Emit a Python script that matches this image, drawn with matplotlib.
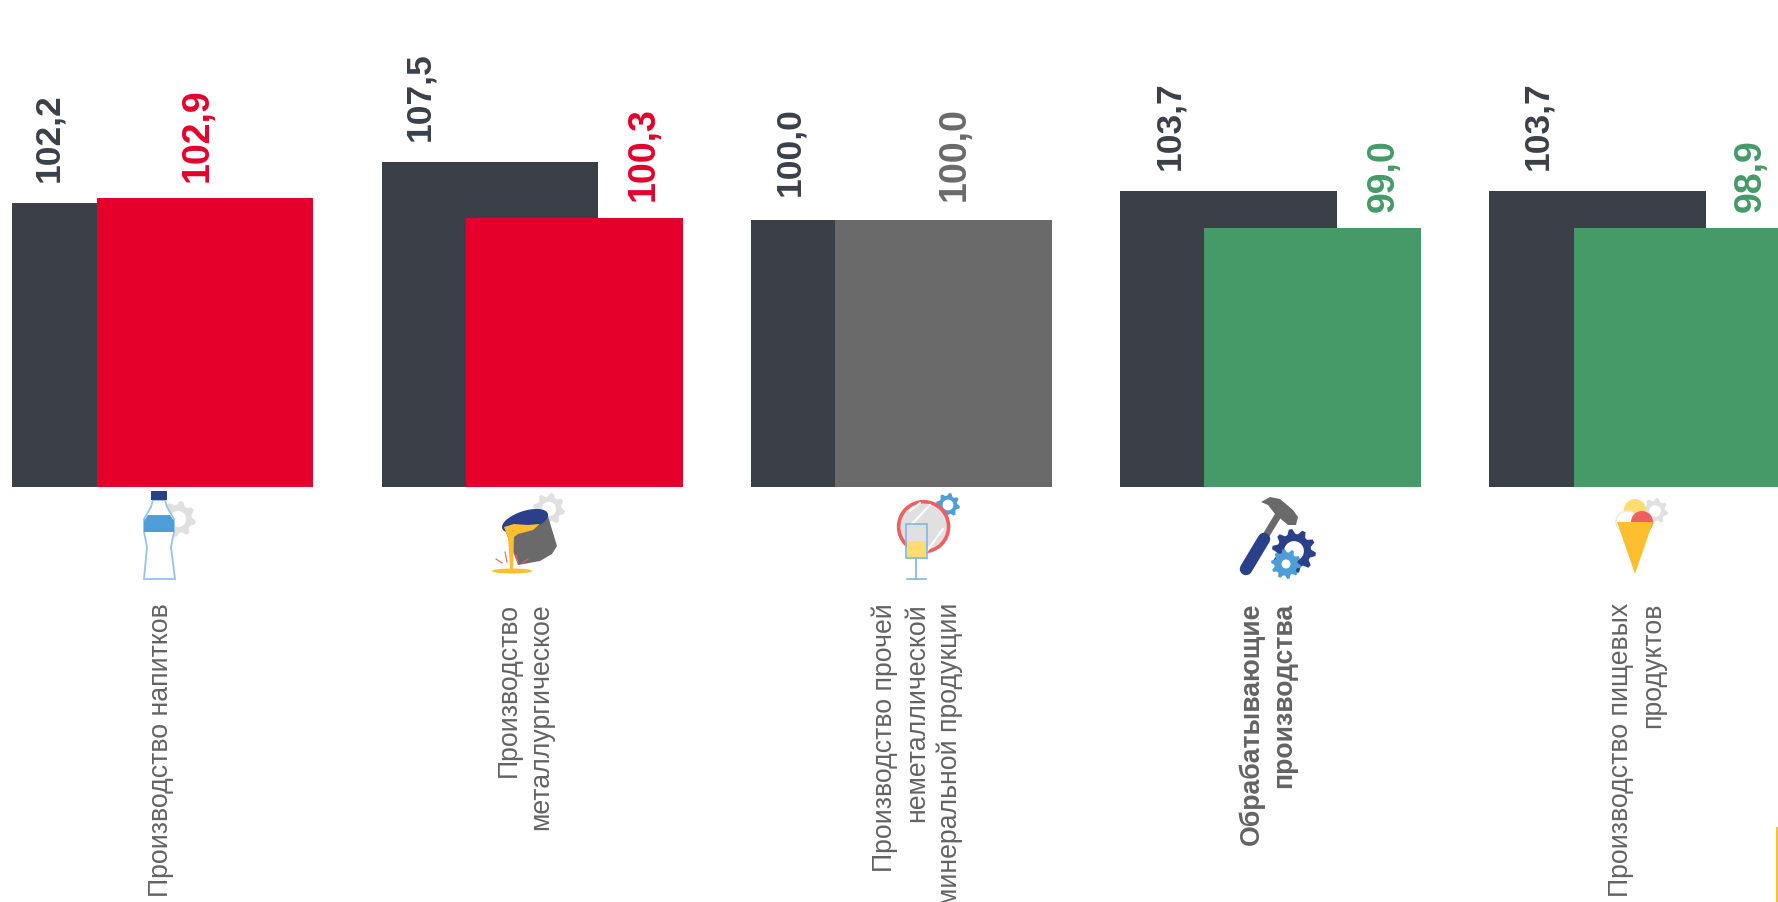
import numpy as np
import matplotlib
matplotlib.use('Agg')
import matplotlib.pyplot as plt
from matplotlib.patches import Circle, Ellipse, Polygon, Rectangle

plt.rcParams['font.family'] = ['Liberation Sans', 'DejaVu Sans']

categories = ['Производство напитков',
              'Производство\nметаллургическое',
              'Производство прочей\nнеметаллической\nминеральной продукции',
              'Обрабатывающие\nпроизводства',
              'Производство пищевых\nпродуктов']
prev_values = [102.2, 107.5, 100.0, 103.7, 103.7]
curr_values = [102.9, 100.3, 100.0, 99.0, 98.9]
prev_labels = ['102,2', '107,5', '100,0', '103,7', '103,7']
curr_labels = ['102,9', '100,3', '100,0', '99,0', '98,9']

DARK = '#3b3f48'
RED = '#e4002b'
GRAY = '#6a6a6a'
GREEN = '#459a67'
TEXT = '#636363'
NAVY = '#2a4089'
BLUE = '#4f9ed8'
LGRAY = '#e0e0e0'
YELLOW = '#fdbf2d'
CORAL = '#ee5f5f'


def curr_color(prev, curr):
    if curr > 100:
        return RED
    if curr < 100:
        return GREEN
    return GRAY


W, H = 1778, 903
fig = plt.figure(figsize=(W / 100, H / 100), dpi=100, facecolor='white')
ax = fig.add_axes([0, 0, 1, 1])
ax.set_axis_off()

# scale: one category = 369.2 px, one index point = 7.71 px
step = 369.2
unit = 7.71
base = 65.4
ax.set_xlim(-120.8 / step, (W - 120.8) / step)
ax.set_ylim(100 - (H - 221) / unit, 100 + 221 / unit)

x = np.arange(len(categories))
width = 216.6 / step
shift = 84.2 / step
ax.bar(x, np.array(prev_values) - base, width, bottom=base, color=DARK)
ax.bar(x + shift, np.array(curr_values) - base, width, bottom=base,
       color=[curr_color(p, c) for p, c in zip(prev_values, curr_values)])

# value labels sit by hand in the source, so offsets are per label (px from bar centre)
prev_dx = [-72, -70, -69, -59, -60]
curr_dx = [-7, 69, 11, 71, 69]
prev_gap = [22, 22, 25, 22, 22]
curr_gap = [17, 18, 20, 17, 17]
for i in x:
    ax.annotate(prev_labels[i], (i, prev_values[i]), xytext=(prev_dx[i], prev_gap[i]),
                textcoords='offset pixels', rotation=90, ha='center', va='bottom',
                fontsize=25.5, fontweight='bold', color=DARK)
    ax.annotate(curr_labels[i], (i + shift, curr_values[i]), xytext=(curr_dx[i], curr_gap[i]),
                textcoords='offset pixels', rotation=90, ha='center', va='bottom',
                fontsize=27, fontweight='bold', color=curr_color(prev_values[i], curr_values[i]))

# overlay in reference pixels for the category text and the small icons
ov = fig.add_axes([0, 0, 1, 1])
ov.set_xlim(0, W)
ov.set_ylim(H, 0)
ov.set_axis_off()
ov.patch.set_alpha(0)

label_x = [161, 525, 917, 1268, 1637]
for i, name in enumerate(categories):
    ov.text(label_x[i], 603, name, rotation=90, ha='center', va='top', multialignment='right',
            fontsize=19.2, color=TEXT, fontweight='bold' if i == 3 else 'normal', linespacing=1.32)


def gear(cx, cy, r, color, teeth=8, hole=0.45, z=2):
    n = teeth * 4
    ang = np.linspace(0, 2 * np.pi, n, endpoint=False) + np.pi / n
    rad = np.where(np.arange(n) % 4 < 2, r, r * 0.78)
    ov.add_patch(Polygon(np.c_[cx + rad * np.cos(ang), cy + rad * np.sin(ang)], color=color, lw=0, zorder=z))
    ov.add_patch(Circle((cx, cy), r * hole, color='white', lw=0, zorder=z))


# bottle
gear(178, 520, 18, LGRAY)
ov.add_patch(Polygon([(153, 501), (165, 501), (167, 508), (174, 520), (174, 533), (171, 548), (175, 580),
                      (144, 580), (147, 548), (144, 533), (144, 520), (151, 508)],
                     fc='white', ec='#93c4ea', lw=1.3, zorder=3))
ov.add_patch(Polygon([(148, 516), (170, 516), (174, 522), (174, 533), (144, 533), (144, 522)],
                     color=BLUE, lw=0, zorder=4))
ov.add_patch(Rectangle((151, 492), 16, 9, color=NAVY, lw=0, zorder=4))

# ladle
gear(549, 510, 16, LGRAY)
ov.add_patch(Polygon([(504, 528), (547, 514), (557, 547), (552, 555), (540, 562), (518, 566)], color=GRAY, lw=0, zorder=3))
ov.add_patch(Ellipse((525, 522), 48, 20, angle=-18, color=NAVY, lw=0, zorder=4))
ov.add_patch(Polygon([(504, 528), (514, 525), (528, 526), (540, 525), (533, 531), (518, 535), (514, 538),
                      (513, 570), (510, 570), (508, 538)], color=YELLOW, lw=0, zorder=5))
ov.add_patch(Ellipse((512, 572), 40, 5, color=YELLOW, lw=0, zorder=5))
for sx, sy, ex, ey in [(496, 560, 502, 564), (505, 553, 507, 563), (516, 556, 518, 564), (528, 560, 522, 564)]:
    ov.plot([sx, ex], [sy, ey], color=CORAL, lw=0.8, zorder=5)

# mirror and glass
gear(948, 506, 12, BLUE)
ov.add_patch(Circle((923.6, 527.7), 25, fc=LGRAY, ec=CORAL, lw=2.6, zorder=3))
for a, b in [((912, 525), (930, 506)), ((927, 552), (943, 530)), ((910, 512), (920, 504))]:
    ov.plot([a[0], b[0]], [a[1], b[1]], color='white', lw=1.5, zorder=3.5)
ov.add_patch(Rectangle((906, 525), 21, 34, fc='none', ec='#80b8e0', lw=1.2, zorder=6))
ov.add_patch(Rectangle((907, 542), 19, 17, color='#ffdd70', lw=0, zorder=5))
ov.plot([916, 916], [559, 580], color='#80b8e0', lw=1.2, zorder=4)
ov.plot([907, 926], [580, 580], color='#80b8e0', lw=1.2, zorder=4)

# hammer and gears
ov.plot([1265, 1282], [538, 510], color=GRAY, lw=5, solid_capstyle='butt', zorder=3)
ov.plot([1246, 1264], [570, 540], color=NAVY, lw=9, solid_capstyle='round', zorder=4)
ov.add_patch(Polygon([(1261, 503), (1270, 498), (1280, 500), (1293, 511), (1298, 518), (1296, 526), (1288, 526),
                      (1275, 515), (1268, 506)], color=GRAY, lw=0, zorder=4))
gear(1294, 552, 22, NAVY, teeth=10, z=3)
gear(1286, 565, 15, BLUE, teeth=10, hole=0.3, z=4)

# ice cream
gear(1655, 512, 13, LGRAY)
ov.add_patch(Circle((1635, 511), 11, color='#ffdd70', lw=0, zorder=3))
ov.add_patch(Circle((1627, 523), 11, fc='white', ec='#e8e8e8', lw=1, zorder=4))
ov.add_patch(Circle((1642, 523), 11, color=CORAL, lw=0, zorder=5))
ov.add_patch(Polygon([(1617, 523), (1653, 523), (1635, 575)], color=YELLOW, lw=0, zorder=6))

# yellow strip at the lower right edge
ov.add_patch(Rectangle((1776, 828), 2, H - 828, color=YELLOW, lw=0))

fig.savefig('out.png', dpi=100)
